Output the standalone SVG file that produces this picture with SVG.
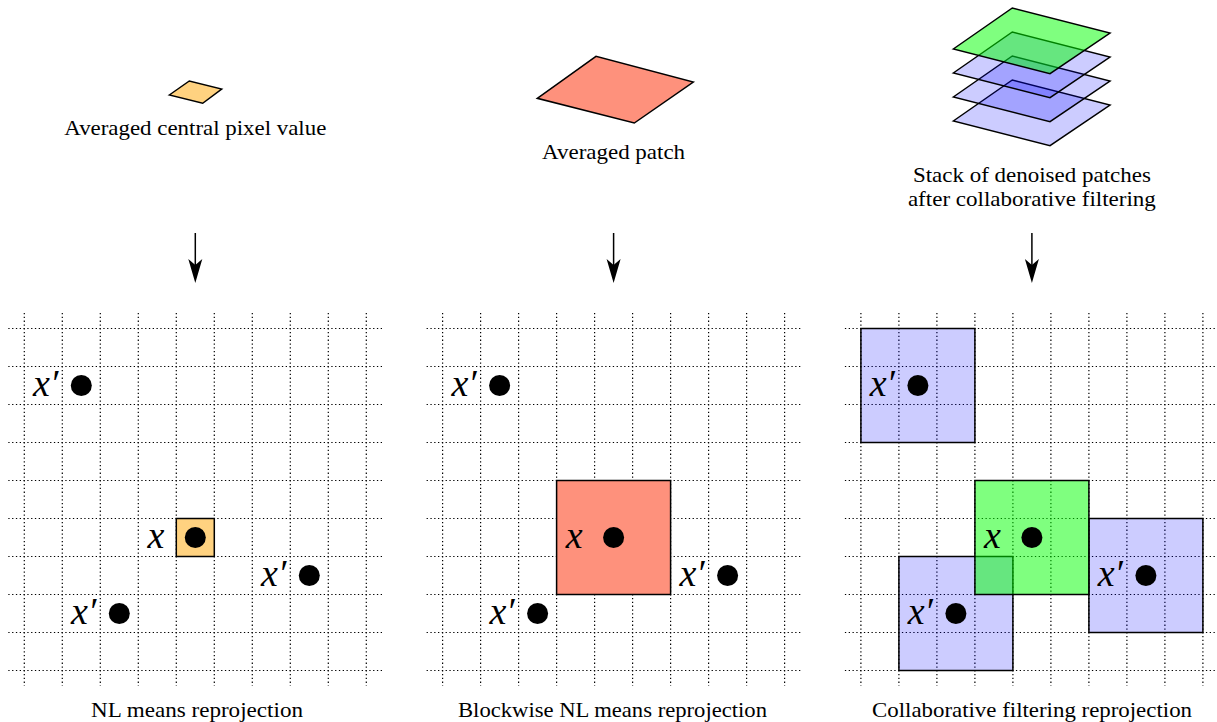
<svg xmlns="http://www.w3.org/2000/svg" xmlns:xlink="http://www.w3.org/1999/xlink" width="1217" height="722" viewBox="0 0 1217 722">
<style>
.cap{font-family:'Liberation Serif','DejaVu Serif',serif;font-size:21px;fill:#000;text-anchor:middle}
.lbl{font-family:'Liberation Serif','DejaVu Serif',serif;font-style:italic;font-size:38px;fill:#000;text-anchor:end}
.grid{fill:none;stroke:#000;stroke-width:1.2;stroke-dasharray:1.3 2.5}
.sq{stroke:#000;stroke-width:1.5}
.blue{fill:#0000ff;fill-opacity:0.2}
.green{fill:#00ff00;fill-opacity:0.5}
.orange{fill:#ffd280}
.red{fill:#fe917c}
.arrow{stroke:#000;stroke-width:1.5;fill:none}
.head{fill:#000}
</style>
<defs>
<g id="gridlines">
<path class="grid" d="M0 313V686M38 313V686M76 313V686M114 313V686M152 313V686M190 313V686M228 313V686M266 313V686M304 313V686M342 313V686"/>
<path class="grid" d="M-16 328.5H358M-16 366.5H358M-16 404.5H358M-16 442.5H358M-16 480.5H358M-16 518.5H358M-16 556.5H358M-16 594.5H358M-16 632.5H358M-16 670.5H358"/>
</g>
</defs>

<!-- top illustrations -->
<g id="pixel-value">
<polygon class="sq orange" stroke-width="1.2" points="169.3,95 189.3,81 221.7,89 202.7,103.3"/>
<text class="cap" x="195.3" y="135" textLength="262" lengthAdjust="spacingAndGlyphs">Averaged central pixel value</text>
</g>
<g id="patch">
<polygon class="sq red" stroke-width="1.2" points="537.3,98.3 596,56.3 693.3,82 634.3,123"/>
<text class="cap" x="613.6" y="159" textLength="143" lengthAdjust="spacingAndGlyphs">Averaged patch</text>
</g>
<g id="stack">
<polygon class="sq blue" stroke-width="1.2" points="953.3,121 1012.3,80 1110,105 1050,145.7"/>
<polygon class="sq blue" stroke-width="1.2" points="953.3,97 1012.3,56 1110,81 1050,121.7"/>
<polygon class="sq blue" stroke-width="1.2" points="953.3,73 1012.3,32 1110,57 1050,97.7"/>
<polygon class="sq green" stroke-width="1.2" points="953.3,49 1012.3,8 1110,33 1050,73.7"/>
<text class="cap" x="1031.9" y="182" textLength="238" lengthAdjust="spacingAndGlyphs">Stack of denoised patches</text>
<text class="cap" x="1031.9" y="206" textLength="248" lengthAdjust="spacingAndGlyphs">after collaborative filtering</text>
</g>

<!-- connectors -->
<g id="connectors">
<path class="arrow" d="M195.3 233V268"/>
<polygon class="head" points="195.3,283 188.3,259 195.3,265 202.3,259"/>
<path class="arrow" d="M613.6 233V268"/>
<polygon class="head" points="613.6,283 606.6,259 613.6,265 620.6,259"/>
<path class="arrow" d="M1031.9 233V268"/>
<polygon class="head" points="1031.9,283 1024.9,259 1031.9,265 1038.9,259"/>
</g>

<!-- grid 1: NL means -->
<g id="grid-nlmeans">
<use xlink:href="#gridlines" href="#gridlines" transform="translate(24.3,0)"/>
<rect class="sq orange" x="176.3" y="518.5" width="38" height="38"/>
<circle cx="81.3" cy="385.5" r="10.5"/>
<circle cx="195.3" cy="537.5" r="10.5"/>
<circle cx="309.3" cy="575.5" r="10.5"/>
<circle cx="119.3" cy="613.5" r="10.5"/>
<text class="lbl" x="58.3" y="396">x′</text>
<text class="lbl" x="164.3" y="548">x</text>
<text class="lbl" x="286.3" y="586">x′</text>
<text class="lbl" x="96.3" y="624">x′</text>
<text class="cap" x="197" y="717" textLength="212" lengthAdjust="spacingAndGlyphs">NL means reprojection</text>
</g>

<!-- grid 2: Blockwise NL means -->
<g id="grid-blockwise">
<use xlink:href="#gridlines" href="#gridlines" transform="translate(442.6,0)"/>
<rect class="sq red" x="556.6" y="480.5" width="114" height="114"/>
<circle cx="499.6" cy="385.5" r="10.5"/>
<circle cx="613.6" cy="537.5" r="10.5"/>
<circle cx="727.6" cy="575.5" r="10.5"/>
<circle cx="537.6" cy="613.5" r="10.5"/>
<text class="lbl" x="476.6" y="396">x′</text>
<text class="lbl" x="582.6" y="548">x</text>
<text class="lbl" x="704.6" y="586">x′</text>
<text class="lbl" x="514.6" y="624">x′</text>
<text class="cap" x="612.5" y="717" textLength="309" lengthAdjust="spacingAndGlyphs">Blockwise NL means reprojection</text>
</g>

<!-- grid 3: Collaborative filtering -->
<g id="grid-collab">
<use xlink:href="#gridlines" href="#gridlines" transform="translate(860.9,0)"/>
<rect class="sq blue" x="860.9" y="328.5" width="114" height="114"/>
<rect class="sq blue" x="1088.9" y="518.5" width="114" height="114"/>
<rect class="sq blue" x="898.9" y="556.5" width="114" height="114"/>
<rect class="sq green" x="974.9" y="480.5" width="114" height="114"/>
<circle cx="917.9" cy="385.5" r="10.5"/>
<circle cx="1031.9" cy="537.5" r="10.5"/>
<circle cx="1145.9" cy="575.5" r="10.5"/>
<circle cx="955.9" cy="613.5" r="10.5"/>
<text class="lbl" x="894.9" y="396">x′</text>
<text class="lbl" x="1000.9" y="548">x</text>
<text class="lbl" x="1122.9" y="586">x′</text>
<text class="lbl" x="932.9" y="624">x′</text>
<text class="cap" x="1032" y="717" textLength="320" lengthAdjust="spacingAndGlyphs">Collaborative filtering reprojection</text>
</g>
</svg>
